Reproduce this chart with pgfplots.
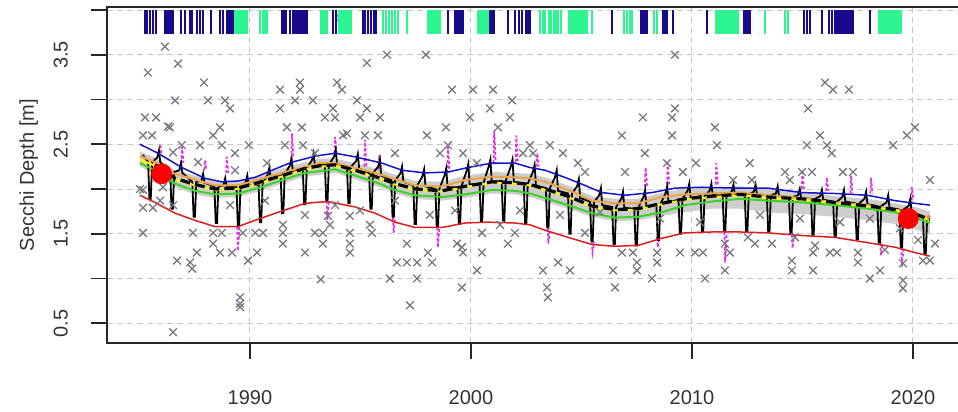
\documentclass[border=0pt]{standalone}
\usepackage{pgfplots}
\pgfplotsset{compat=1.18}
\usepackage{fontspec}
\setmainfont{Liberation Sans}

\definecolor{ptgray}{RGB}{120,120,130}
\definecolor{ribbon}{RGB}{205,205,205}
\definecolor{trendblue}{RGB}{20,20,200}
\definecolor{trendred}{RGB}{220,30,30}
\definecolor{trendgreen}{RGB}{60,210,40}
\definecolor{trendorange}{RGB}{235,165,70}
\definecolor{trendyellow}{RGB}{255,250,0}
\definecolor{rugnavy}{RGB}{25,10,140}
\definecolor{ruggreen}{RGB}{45,245,145}
\definecolor{spikemag}{RGB}{225,50,225}

\newcommand{\lab}{\fontsize{10}{12}\selectfont}

\begin{document}
\begin{tikzpicture}
\begin{axis}[
  scale only axis,
  width=426.5pt, height=168.15pt,
  xmin=1983.53, xmax=2022.13,
  ymin=0.276, ymax=4.034,
  axis line style={line width=0.8pt, black!85},
  xtick={1990,2000,2010,2020},
  xticklabels={1990,2000,2010,2020},
  ytick={0.5,1,1.5,2,2.5,3,3.5,4},
  yticklabels={0.5,,1.5,,2.5,,3.5,},
  tick align=outside, tick pos=left,
  major tick length=8pt,
  tick style={line width=0.8pt, black!85},
  grid=major,
  grid style={line width=0.5pt, draw=black!22, dash pattern=on 3pt off 2pt},
  xticklabel style={font=\lab, text=black!80},
  yticklabel style={font=\lab, text=black!80, rotate=90, anchor=south},
  xticklabel shift=12pt,
  yticklabel shift=8pt,
  ylabel={Secchi Depth [m]},
  ylabel style={font=\lab, text=black!80, at={(axis description cs:-0.0727,0.5)}, anchor=south},
  unbounded coords=jump,
]

% confidence ribbon
\addplot[fill=ribbon, draw=none] coordinates {
(1985.02,2.42)(1985.70,2.35)(1986.61,2.21)(1987.51,2.15)(1988.42,2.09)(1989.46,2.09)
(1990.36,2.15)(1991.45,2.23)(1992.49,2.30)(1993.17,2.34)(1993.85,2.34)(1994.75,2.29)
(1995.66,2.23)(1996.56,2.16)(1997.47,2.09)(1998.69,2.08)(1999.73,2.15)(2000.95,2.19)
(2001.99,2.18)(2002.67,2.17)(2003.35,2.13)(2004.39,2.04)(2005.48,1.92)(2006.52,1.89)
(2007.56,1.89)(2008.64,1.96)(2009.68,2.00)(2010.90,2.02)(2012.17,2.03)(2013.44,2.00)
(2014.98,1.97)(2016.47,1.92)(2017.96,1.89)(2019.19,1.84)(2020.09,1.80)(2020.77,1.75)
(2020.77,1.49)(2020.09,1.55)(2019.19,1.61)(2017.96,1.65)(2016.47,1.69)(2014.98,1.72)
(2013.44,1.74)(2012.17,1.78)(2010.90,1.78)(2009.68,1.74)(2008.64,1.70)(2007.56,1.65)
(2006.52,1.64)(2005.48,1.69)(2004.39,1.78)(2003.35,1.86)(2002.67,1.91)(2001.99,1.94)
(2000.95,1.95)(1999.73,1.90)(1998.69,1.87)(1997.47,1.89)(1996.56,1.95)(1995.66,2.04)
(1994.75,2.11)(1993.85,2.18)(1993.17,2.16)(1992.49,2.14)(1991.45,2.06)(1990.36,1.97)
(1989.46,1.91)(1988.42,1.90)(1987.51,1.94)(1986.61,2.02)(1985.70,2.17)(1985.02,2.25)
} -- cycle;

% observations
\addplot[only marks, mark=x, mark size=2.7pt, color=ptgray, mark options={line width=0.65pt}] coordinates {
(1986.15,3.59)(1985.38,3.30)(1986.74,3.40)(1987.92,3.19)(1986.61,2.99)(1988.10,2.99)
(1988.87,2.99)(1989.10,2.90)(1985.25,2.80)(1985.75,2.80)(1986.29,2.70)(1988.64,2.69)
(1988.33,2.60)(1985.57,2.60)(1986.92,2.49)(1987.74,2.49)(1988.73,2.49)(1989.95,2.49)
(1989.32,2.40)(1989.32,2.21)(1990.77,2.29)(1991.36,3.11)(1991.36,2.90)(1992.26,3.19)
(1992.26,3.11)(1992.04,2.99)(1992.85,2.99)(1991.67,2.69)(1992.35,2.69)(1991.58,2.49)
(1992.40,2.49)(1986.52,2.41)(1987.65,2.30)(1985.16,1.99)(1986.06,2.02)(1985.16,2.60)
(1986.38,2.69)(1992.94,2.40)
(1994.07,3.91)(1995.29,3.41)(1996.20,3.50)(1997.96,3.50)(1993.94,3.19)(1994.16,3.11)
(1994.84,2.99)(1995.29,2.90)(1993.76,2.90)(1993.39,2.80)(1993.85,2.80)(1994.98,2.80)
(1995.88,2.80)(1994.21,2.60)(1995.20,2.60)(1995.79,2.60)(1998.01,2.60)(1999.14,3.11)
(2000.09,3.11)(2001.00,3.11)(2001.86,2.99)(2000.86,2.90)(1999.95,2.80)(2001.76,2.80)
(1998.87,2.69)(2001.22,2.69)(1998.96,2.49)(1996.56,2.40)(1998.60,2.40)(1999.64,2.40)
(2001.63,2.49)(2002.67,2.49)(2002.81,2.40)(2003.57,2.49)(2004.16,2.40)(2004.84,2.29)
(2005.16,2.19)(2006.83,2.60)(2006.97,2.19)(2007.78,2.80)(2007.87,2.40)(1994.39,2.62)
(2000.27,2.29)(2002.35,2.40)
(2009.23,3.50)(2009.10,2.80)(2009.23,2.90)(2009.10,2.60)(2008.87,2.29)(2009.59,2.19)
(2010.18,2.29)(2011.04,2.69)(2011.13,2.49)(2012.62,2.29)(2011.86,2.10)(2012.71,2.10)
(2014.21,2.19)(2014.43,2.10)(2014.98,2.19)(2015.25,2.90)(2016.02,3.19)(2016.38,3.11)
(2017.10,3.11)(2015.79,2.60)(2015.20,2.49)(2016.11,2.49)(2016.33,2.40)(2016.83,2.19)
(2017.29,2.19)(2019.10,2.49)(2019.73,2.60)(2020.09,2.69)(2020.77,2.10)(2015.43,2.19)
(1985.02,2.00)(1985.16,1.79)(1985.61,1.79)(1986.52,1.82)(1985.16,1.51)(1987.42,1.51)
(1988.33,1.51)(1988.73,1.51)(1988.33,1.39)(1988.64,1.29)(1989.19,1.29)(1987.60,1.29)
(1986.70,1.20)(1987.29,1.18)(1987.38,1.11)(1989.91,1.20)(1990.32,1.29)(1989.55,0.79)
(1989.55,0.72)(1989.55,0.68)(1986.52,0.40)(1991.49,1.60)(1991.49,1.51)(1991.49,1.39)
(1992.49,1.71)(1992.49,1.29)(1989.68,1.51)(1990.23,1.51)(1990.59,1.51)(1992.94,1.51)
(1993.20,0.99)
(1993.30,1.51)(1993.30,1.39)(1993.53,1.70)(1993.62,1.60)(1994.52,1.70)(1994.52,1.51)
(1994.52,1.39)(1994.52,1.29)(1995.43,1.60)(1995.52,1.51)(1996.33,1.00)(1996.65,1.18)
(1997.10,1.18)(1997.56,1.18)(1997.56,1.00)(1997.10,1.39)(1997.24,0.70)(1998.05,1.29)
(1998.24,1.18)(1999.37,1.39)(1999.64,1.29)(1999.59,0.90)(2000.27,1.09)(2000.50,1.51)
(2000.50,1.29)(2001.31,1.60)(2001.67,1.39)(2003.26,1.09)(2003.44,0.90)(2003.48,0.79)
(2003.94,1.18)(2004.48,1.09)(2005.16,1.51)(2006.43,1.09)(2006.52,0.90)(2006.83,1.29)
(2007.33,1.29)(2007.51,1.09)(2007.51,1.18)(1999.59,1.35)(2001.99,1.51)
(2008.19,1.00)(2008.42,1.29)(2008.42,1.18)(2009.46,1.29)(2010.14,1.29)(2010.50,1.29)
(2010.59,1.00)(2011.49,1.39)(2011.49,1.09)(2011.72,1.29)(2012.85,1.39)(2013.62,1.39)
(2014.52,1.20)(2014.52,1.09)(2015.48,1.09)(2015.48,1.29)(2016.24,1.29)(2016.56,1.29)
(2017.51,1.29)(2017.51,1.18)(2018.05,1.00)(2018.51,1.09)(2019.55,1.17)(2019.55,0.98)
(2019.55,0.89)(2020.45,1.20)(2020.77,1.20)(2012.53,1.46)(2014.66,1.46)(2015.57,1.37)
(2018.73,1.32)(2020.23,1.43)(2021.00,1.39)
(1985.93,1.87)(1989.10,1.82)(1990.68,1.87)(1993.85,1.82)(1994.98,1.76)(1996.56,1.87)
(1998.14,1.71)(1999.28,1.76)(2002.22,1.76)(2004.03,1.71)(2005.84,1.74)(2008.55,1.67)
(2010.36,1.63)(2013.08,1.71)(2014.89,1.67)(2016.70,1.63)(2018.05,1.67)(2019.41,1.56)
};

% dotted magenta excursions
\addplot[color=spikemag, line width=0.85pt, dash pattern=on 1.5pt off 1pt] coordinates {
(1985.90,2.40)(1985.93,2.50)(1985.97,2.45)(1986.00,2.40)(1986.00,nan)
(1986.89,2.29)(1986.92,2.47)(1986.96,2.38)(1986.99,2.29)(1986.99,nan)
(1987.93,2.21)(1987.96,2.32)(1988.00,2.26)(1988.03,2.21)(1988.03,nan)
(1988.92,2.18)(1988.95,2.36)(1988.99,2.27)(1989.02,2.18)(1989.02,nan)
(1991.87,2.34)(1991.90,2.62)(1991.94,2.48)(1991.97,2.34)(1991.97,nan)
(1993.82,2.40)(1993.85,2.58)(1993.89,2.49)(1993.92,2.40)(1993.92,nan)
(1995.17,2.25)(1995.20,2.55)(1995.24,2.40)(1995.27,2.25)(1995.27,nan)
(1995.82,2.21)(1995.85,2.38)(1995.89,2.30)(1995.92,2.21)(1995.92,nan)
(1998.93,2.18)(1998.96,2.47)(1999.00,2.32)(1999.03,2.18)(1999.03,nan)
(2001.02,2.29)(2001.05,2.66)(2001.09,2.47)(2001.12,2.29)(2001.12,nan)
(2002.02,2.30)(2002.05,2.60)(2002.09,2.45)(2002.12,2.30)(2002.12,nan)
(2002.97,2.25)(2003.00,2.40)(2003.04,2.32)(2003.07,2.25)(2003.07,nan)
(2007.87,2.02)(2007.90,2.24)(2007.94,2.13)(2007.97,2.02)(2007.97,nan)
(2008.87,2.05)(2008.90,2.29)(2008.94,2.17)(2008.97,2.05)(2008.97,nan)
(2011.07,2.05)(2011.10,2.29)(2011.14,2.17)(2011.17,2.05)(2011.17,nan)
(2014.97,2.00)(2015.00,2.21)(2015.04,2.10)(2015.07,2.00)(2015.07,nan)
(2016.07,1.98)(2016.10,2.13)(2016.14,2.05)(2016.17,1.98)(2016.17,nan)
(2017.17,1.95)(2017.20,2.15)(2017.24,2.05)(2017.27,1.95)(2017.27,nan)
(2018.07,1.95)(2018.10,2.12)(2018.14,2.03)(2018.17,1.95)(2018.17,nan)
(2019.92,1.88)(2019.95,2.02)(2019.99,1.95)(2020.02,1.88)(2020.02,nan)
(1989.42,1.58)(1989.45,1.31)(1989.49,1.45)(1989.52,1.58)(1989.52,nan)
(1993.47,1.87)(1993.50,1.65)(1993.54,1.76)(1993.57,1.87)(1993.57,nan)
(1996.47,1.68)(1996.50,1.51)(1996.54,1.60)(1996.57,1.68)(1996.57,nan)
(1998.47,1.57)(1998.50,1.35)(1998.54,1.46)(1998.57,1.57)(1998.57,nan)
(2003.47,1.56)(2003.50,1.39)(2003.54,1.47)(2003.57,1.56)(2003.57,nan)
(2005.47,1.41)(2005.50,1.29)(2005.54,1.35)(2005.57,1.41)(2005.57,nan)
(2008.42,1.46)(2008.45,1.35)(2008.49,1.40)(2008.52,1.46)(2008.52,nan)
(2011.47,1.52)(2011.50,1.18)(2011.54,1.35)(2011.57,1.52)(2011.57,nan)
(2014.52,1.49)(2014.55,1.34)(2014.59,1.41)(2014.62,1.49)(2014.62,nan)
(2018.52,1.40)(2018.55,1.26)(2018.59,1.33)(2018.62,1.40)(2018.62,nan)
(2019.47,1.35)(2019.50,1.13)(2019.54,1.24)(2019.57,1.35)
};

% seasonal model (black)
\addplot[black, line width=0.9pt] coordinates {
(1985.15,2.38)
(1985.39,2.30)(1985.45,1.89)(1985.51,1.89)(1985.57,2.30)(1985.80,2.35)(1985.88,2.43)(1985.94,2.30)
(1986.39,2.19)(1986.45,1.78)(1986.51,1.78)(1986.57,2.19)(1986.80,2.21)(1986.88,2.29)(1986.94,2.18)
(1987.39,2.08)(1987.45,1.69)(1987.51,1.69)(1987.57,2.08)(1987.80,2.09)(1987.88,2.17)(1987.94,2.07)
(1988.39,2.03)(1988.45,1.62)(1988.51,1.62)(1988.57,2.03)(1988.80,2.04)(1988.88,2.12)(1988.94,2.03)
(1989.39,2.02)(1989.45,1.59)(1989.51,1.59)(1989.57,2.02)(1989.80,2.07)(1989.88,2.15)(1989.94,2.04)
(1990.39,2.05)(1990.45,1.63)(1990.51,1.63)(1990.57,2.06)(1990.80,2.16)(1990.88,2.24)(1990.94,2.10)
(1991.39,2.15)(1991.45,1.73)(1991.51,1.73)(1991.57,2.16)(1991.80,2.26)(1991.88,2.34)(1991.94,2.20)
(1992.39,2.22)(1992.45,1.83)(1992.51,1.83)(1992.57,2.23)(1992.80,2.32)(1992.88,2.40)(1992.94,2.26)
(1993.39,2.27)(1993.45,1.87)(1993.51,1.87)(1993.57,2.27)(1993.80,2.36)(1993.88,2.44)(1993.94,2.28)
(1994.39,2.25)(1994.45,1.84)(1994.51,1.84)(1994.57,2.25)(1994.80,2.31)(1994.88,2.39)(1994.94,2.23)
(1995.39,2.18)(1995.45,1.78)(1995.51,1.78)(1995.57,2.18)(1995.80,2.25)(1995.88,2.33)(1995.94,2.15)
(1996.39,2.10)(1996.45,1.69)(1996.51,1.69)(1996.57,2.10)(1996.80,2.17)(1996.88,2.25)(1996.94,2.08)
(1997.39,2.04)(1997.45,1.61)(1997.51,1.61)(1997.57,2.04)(1997.80,2.14)(1997.88,2.22)(1997.94,2.03)
(1998.39,2.00)(1998.45,1.58)(1998.51,1.58)(1998.57,2.00)(1998.80,2.15)(1998.88,2.23)(1998.94,2.02)
(1999.39,2.02)(1999.45,1.61)(1999.51,1.61)(1999.57,2.03)(1999.80,2.20)(1999.88,2.28)(1999.94,2.05)
(2000.39,2.06)(2000.45,1.64)(2000.51,1.64)(2000.57,2.07)(2000.80,2.25)(2000.88,2.33)(2000.94,2.08)
(2001.39,2.09)(2001.45,1.64)(2001.51,1.64)(2001.57,2.09)(2001.80,2.25)(2001.88,2.33)(2001.94,2.08)
(2002.39,2.06)(2002.45,1.62)(2002.51,1.62)(2002.57,2.06)(2002.80,2.19)(2002.88,2.27)(2002.94,2.04)
(2003.39,2.01)(2003.45,1.57)(2003.51,1.57)(2003.57,2.01)(2003.80,2.13)(2003.88,2.21)(2003.94,1.98)
(2004.39,1.95)(2004.45,1.50)(2004.51,1.50)(2004.57,1.95)(2004.80,2.03)(2004.88,2.11)(2004.94,1.90)
(2005.39,1.86)(2005.45,1.42)(2005.51,1.42)(2005.57,1.85)(2005.80,1.93)(2005.88,2.01)(2005.94,1.82)
(2006.39,1.80)(2006.45,1.38)(2006.51,1.38)(2006.57,1.80)(2006.80,1.89)(2006.88,1.97)(2006.94,1.79)
(2007.39,1.78)(2007.45,1.37)(2007.51,1.37)(2007.57,1.79)(2007.80,1.91)(2007.88,1.99)(2007.94,1.80)
(2008.39,1.82)(2008.45,1.43)(2008.51,1.43)(2008.57,1.83)(2008.80,1.95)(2008.88,2.03)(2008.94,1.85)
(2009.39,1.88)(2009.45,1.50)(2009.51,1.50)(2009.57,1.89)(2009.80,1.98)(2009.88,2.06)(2009.94,1.90)
(2010.39,1.92)(2010.45,1.52)(2010.51,1.52)(2010.57,1.92)(2010.80,1.98)(2010.88,2.06)(2010.94,1.93)
(2011.39,1.93)(2011.45,1.53)(2011.51,1.53)(2011.57,1.93)(2011.80,1.97)(2011.88,2.05)(2011.94,1.94)
(2012.39,1.94)(2012.45,1.53)(2012.51,1.53)(2012.57,1.94)(2012.80,1.97)(2012.88,2.05)(2012.94,1.94)
(2013.39,1.93)(2013.45,1.52)(2013.51,1.52)(2013.57,1.93)(2013.80,1.95)(2013.88,2.03)(2013.94,1.92)
(2014.39,1.91)(2014.45,1.50)(2014.51,1.50)(2014.57,1.91)(2014.80,1.93)(2014.88,2.00)(2014.94,1.90)
(2015.39,1.89)(2015.45,1.49)(2015.51,1.49)(2015.57,1.89)(2015.80,1.92)(2015.88,1.99)(2015.94,1.88)
(2016.39,1.86)(2016.45,1.47)(2016.51,1.47)(2016.57,1.86)(2016.80,1.91)(2016.88,1.99)(2016.94,1.86)
(2017.39,1.84)(2017.45,1.44)(2017.51,1.44)(2017.57,1.84)(2017.80,1.89)(2017.88,1.97)(2017.94,1.83)
(2018.39,1.81)(2018.45,1.40)(2018.51,1.40)(2018.57,1.81)(2018.80,1.85)(2018.88,1.93)(2018.94,1.79)
(2019.39,1.77)(2019.45,1.35)(2019.51,1.35)(2019.57,1.77)(2019.80,1.81)(2019.88,1.89)(2019.94,1.74)
(2020.45,1.70)(2020.52,1.27)(2020.58,1.27)(2020.64,1.66)(2020.75,1.70)
};

% lower bound (red)
\addplot[trendred, line width=0.75pt] coordinates {
(1985.02,1.93)(1985.70,1.85)(1986.61,1.73)(1987.51,1.65)(1988.42,1.58)(1989.46,1.58)
(1990.23,1.65)(1991.27,1.74)(1992.49,1.84)(1993.50,1.86)(1994.75,1.80)(1995.66,1.73)
(1996.56,1.63)(1997.47,1.57)(1998.69,1.57)(1999.73,1.62)(2000.77,1.63)(2001.99,1.62)
(2002.67,1.60)(2003.35,1.54)(2004.39,1.46)(2005.48,1.38)(2006.52,1.36)(2007.56,1.37)
(2008.64,1.45)(2009.68,1.51)(2010.90,1.52)(2012.17,1.52)(2013.44,1.51)(2014.98,1.48)
(2016.47,1.46)(2017.96,1.40)(2019.19,1.35)(2020.09,1.29)(2020.77,1.25)
};

% upper bound (blue)
\addplot[trendblue, line width=0.75pt] coordinates {
(1985.02,2.50)(1985.84,2.40)(1986.92,2.24)(1987.96,2.12)(1988.73,2.08)(1989.46,2.09)
(1990.23,2.13)(1991.00,2.21)(1991.90,2.30)(1993.00,2.37)(1993.85,2.40)(1994.75,2.36)
(1995.97,2.29)(1996.88,2.21)(1997.92,2.18)(1998.96,2.19)(1999.86,2.24)(2000.95,2.29)
(2001.99,2.29)(2002.67,2.24)(2003.35,2.21)(2004.25,2.13)(2005.16,2.04)(2005.93,1.96)
(2006.97,1.93)(2008.19,1.96)(2009.23,2.01)(2010.45,2.02)(2012.00,2.01)(2013.44,2.01)
(2014.98,1.96)(2016.47,1.95)(2017.96,1.93)(2019.19,1.87)(2020.09,1.84)(2020.77,1.82)
};

% orange
\addplot[trendorange, line width=1pt] coordinates {
(1985.02,2.37)(1985.70,2.30)(1986.47,2.18)(1988.42,2.04)(1989.46,2.04)(1991.45,2.18)
(1993.17,2.29)(1993.85,2.29)(1995.66,2.18)(1997.47,2.04)(1998.69,2.03)(1999.73,2.10)
(2000.95,2.14)(2001.99,2.13)(2002.67,2.12)(2003.35,2.08)(2004.39,1.99)(2005.48,1.87)
(2006.52,1.84)(2007.56,1.84)(2008.64,1.91)(2009.68,1.94)(2010.90,1.95)(2012.17,1.96)
(2013.44,1.93)(2014.98,1.90)(2016.47,1.85)(2017.96,1.82)(2019.19,1.77)(2020.09,1.73)
(2020.77,1.68)
};

% yellow
\addplot[trendyellow, line width=1pt] coordinates {
(1985.02,2.33)(1985.70,2.26)(1986.61,2.11)(1987.51,2.04)(1988.42,1.99)(1989.46,2.00)
(1990.36,2.06)(1991.45,2.14)(1992.49,2.22)(1993.17,2.25)(1993.85,2.26)(1994.75,2.20)
(1995.66,2.13)(1996.56,2.05)(1997.47,1.99)(1998.69,1.97)(1999.73,2.02)(2000.95,2.07)
(2001.99,2.06)(2002.67,2.04)(2003.35,1.99)(2004.39,1.91)(2005.48,1.80)(2006.52,1.76)
(2007.56,1.77)(2008.64,1.83)(2009.68,1.88)(2010.90,1.91)(2012.17,1.93)(2013.44,1.90)
(2014.98,1.88)(2016.47,1.84)(2017.96,1.80)(2019.19,1.76)(2020.09,1.71)(2020.77,1.65)
};

% green
\addplot[trendgreen, line width=1pt] coordinates {
(1985.02,2.29)(1985.70,2.21)(1986.61,2.06)(1987.51,1.98)(1988.42,1.94)(1989.46,1.95)
(1990.36,2.01)(1991.45,2.10)(1992.49,2.18)(1993.17,2.20)(1993.85,2.22)(1994.75,2.15)
(1995.66,2.08)(1996.56,1.99)(1997.47,1.93)(1998.69,1.91)(1999.73,1.94)(2000.95,1.99)
(2001.99,1.98)(2002.67,1.95)(2003.35,1.90)(2004.39,1.82)(2005.48,1.73)(2006.52,1.68)
(2007.56,1.69)(2008.64,1.74)(2009.68,1.82)(2010.90,1.86)(2012.17,1.89)(2013.44,1.87)
(2014.98,1.85)(2016.47,1.82)(2017.96,1.78)(2019.19,1.74)(2020.09,1.68)(2020.77,1.62)
};

% black dashed trend
\addplot[black, line width=1.6pt, dash pattern=on 5pt off 2.5pt] coordinates {
(1985.70,2.27)(1986.61,2.12)(1987.51,2.05)(1988.42,2.00)(1989.46,2.01)
(1990.36,2.07)(1991.45,2.15)(1992.49,2.23)(1993.17,2.26)(1993.85,2.27)(1994.75,2.21)
(1995.66,2.14)(1996.56,2.06)(1997.47,2.00)(1998.69,1.98)(1999.73,2.03)(2000.95,2.08)
(2001.99,2.07)(2002.67,2.05)(2003.35,2.00)(2004.39,1.92)(2005.48,1.81)(2006.52,1.77)
(2007.56,1.78)(2008.64,1.84)(2009.68,1.89)(2010.90,1.92)(2012.17,1.94)(2013.44,1.91)
(2014.98,1.89)(2016.47,1.85)(2017.96,1.81)(2019.19,1.77)(2020.09,1.72)(2020.77,1.66)
};

% highlighted points
\addplot[only marks, mark=*, mark size=5pt, color=red, mark options={draw=none}] coordinates {
(1986.00,2.17)(2019.79,1.67)
};

% rug
\addplot[only marks, mark=|, mark size=6pt, color=rugnavy, mark options={line width=1pt}] coordinates {
(1985.25,3.866)(1985.34,3.866)(1985.48,3.866)(1985.61,3.866)(1985.75,3.866)
(1986.15,3.866)(1986.24,3.866)(1986.33,3.866)(1986.42,3.866)(1986.52,3.866)
(1986.88,3.866)(1987.06,3.866)(1987.28,3.866)(1987.38,3.866)(1987.60,3.866)
(1987.74,3.866)(1987.87,3.866)(1988.24,3.866)(1988.64,3.866)(1988.78,3.866)
(1988.96,3.866)(1989.05,3.866)(1989.14,3.866)(1989.23,3.866)
(1991.45,3.866)(1991.54,3.866)(1991.63,3.866)(1991.81,3.866)(1991.95,3.866)
(1992.04,3.866)(1992.13,3.866)(1992.22,3.866)(1992.31,3.866)(1992.40,3.866)
(1992.49,3.866)(1992.58,3.866)(1993.76,3.866)(1993.89,3.866)
(1995.11,3.866)(1995.20,3.866)(1995.34,3.866)(1995.48,3.866)(1995.61,3.866)(1995.70,3.866)
(1998.96,3.866)(1999.28,3.866)(1999.37,3.866)(1999.46,3.866)(1999.55,3.866)(1999.64,3.866)
(2000.86,3.866)(2000.95,3.866)(2001.04,3.866)(2001.67,3.866)(2001.99,3.866)
(2002.17,3.866)(2002.31,3.866)(2002.49,3.866)(2002.58,3.866)(2002.67,3.866)
(2006.38,3.866)(2007.69,3.866)(2007.78,3.866)(2007.87,3.866)(2007.96,3.866)
(2008.69,3.866)(2008.78,3.866)(2008.87,3.866)(2009.14,3.866)(2010.68,3.866)
(2012.35,3.866)(2012.44,3.866)(2012.53,3.866)(2012.62,3.866)
(2015.07,3.866)(2015.20,3.866)(2015.34,3.866)(2015.88,3.866)(2016.20,3.866)
(2016.34,3.866)(2016.47,3.866)(2016.56,3.866)(2016.65,3.866)(2016.74,3.866)
(2016.83,3.866)(2016.92,3.866)(2017.01,3.866)(2017.10,3.866)(2017.19,3.866)
(2017.29,3.866)(2018.05,3.866)
};
\addplot[only marks, mark=|, mark size=6pt, color=ruggreen, mark options={line width=1pt}] coordinates {
(1989.32,3.866)(1989.41,3.866)(1989.50,3.866)(1989.59,3.866)(1989.68,3.866)
(1989.77,3.866)(1989.86,3.866)(1990.45,3.866)(1990.59,3.866)(1990.68,3.866)
(1990.77,3.866)(1993.21,3.866)(1993.30,3.866)(1993.39,3.866)(1993.48,3.866)
(1994.03,3.866)(1994.12,3.866)(1994.21,3.866)(1994.30,3.866)(1994.39,3.866)
(1994.48,3.866)(1994.57,3.866)(1996.02,3.866)(1996.15,3.866)(1996.29,3.866)
(1996.43,3.866)(1996.56,3.866)(1996.70,3.866)(1997.10,3.866)
(1998.05,3.866)(1998.14,3.866)(1998.24,3.866)(1998.33,3.866)(1998.42,3.866)
(1998.51,3.866)(1998.60,3.866)(2000.32,3.866)(2000.41,3.866)(2000.50,3.866)
(2000.59,3.866)(2000.68,3.866)(2000.77,3.866)
(2003.12,3.866)(2003.26,3.866)(2003.35,3.866)(2003.53,3.866)(2003.62,3.866)
(2003.76,3.866)(2003.85,3.866)(2003.94,3.866)(2004.07,3.866)
(2004.44,3.866)(2004.53,3.866)(2004.62,3.866)(2004.71,3.866)(2004.80,3.866)
(2004.89,3.866)(2004.98,3.866)(2005.07,3.866)(2005.16,3.866)(2005.25,3.866)
(2005.48,3.866)(2006.92,3.866)(2007.06,3.866)(2007.20,3.866)(2007.28,3.866)
(2008.28,3.866)(2008.42,3.866)
(2011.09,3.866)(2011.18,3.866)(2011.27,3.866)(2011.36,3.866)(2011.45,3.866)
(2011.54,3.866)(2011.63,3.866)(2011.72,3.866)(2011.81,3.866)(2011.90,3.866)
(2011.99,3.866)(2012.08,3.866)(2013.30,3.866)(2014.21,3.866)(2014.34,3.866)
(2018.45,3.866)(2018.55,3.866)(2018.64,3.866)(2018.73,3.866)(2018.82,3.866)
(2018.91,3.866)(2019.00,3.866)(2019.09,3.866)(2019.18,3.866)(2019.27,3.866)
(2019.36,3.866)(2019.45,3.866)
};

\end{axis}
\pgfresetboundingbox
\path ([xshift=-53.5pt,yshift=-34pt]current axis.south west) rectangle ([xshift=-1pt,yshift=3.5pt]current axis.north east);
\end{tikzpicture}
\end{document}
